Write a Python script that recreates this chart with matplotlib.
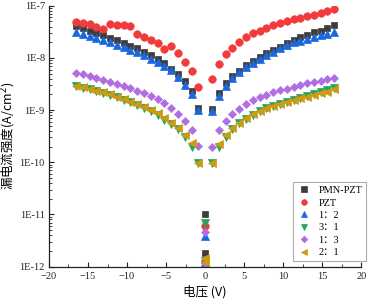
import matplotlib
matplotlib.use("Agg")
import matplotlib.pyplot as plt
from matplotlib.ticker import LogLocator, NullFormatter, FixedLocator, MultipleLocator, FixedFormatter

plt.rcParams['font.family'] = ['Liberation Serif', 'Noto Sans CJK SC', 'DejaVu Sans']

# voltages (V)
v_neg = [-16.53, -15.66, -14.79, -13.92, -13.05, -12.18, -11.31, -10.44, -9.57, -8.70,
         -7.83, -6.96, -6.09, -5.22, -4.35, -3.48, -2.61, -1.74, -0.87]
v_zero = [0.0, 0.0]
v_pos = [0.87, 1.74, 2.61, 3.48, 4.35, 5.22, 6.09, 6.96, 7.83, 8.70,
         9.57, 10.44, 11.31, 12.18, 13.05, 13.92, 14.79, 15.66, 16.53]

labels = ['PMN-PZT', 'PZT', '1：2', '3：1', '1：3', '2：1']

pmn_neg = [4.07e-8, 3.79e-8, 3.32e-8, 3.04e-8, 2.74e-8, 2.44e-8, 2.2e-8, 1.95e-8, 1.71e-8, 1.52e-8,
           1.32e-8, 1.14e-8, 9.5e-9, 7.85e-9, 6.12e-9, 4.91e-9, 3.6e-9, 2.35e-9, 1.08e-9]
pmn_zero = [1.02e-11, 1.8e-12]
pmn_pos = [1.05e-9, 2.09e-9, 3.25e-9, 4.5e-9, 5.69e-9, 7.3e-9, 8.71e-9, 1.05e-8, 1.22e-8, 1.42e-8,
           1.64e-8, 1.9e-8, 2.2e-8, 2.47e-8, 2.78e-8, 3.08e-8, 3.32e-8, 3.79e-8, 4.26e-8]

pzt_neg = [4.93e-8, 4.72e-8, 4.46e-8, 3.96e-8, 3.57e-8, 4.46e-8, 4.33e-8, 4.2e-8, 4.02e-8, 2.82e-8,
           2.55e-8, 2.2e-8, 1.9e-8, 1.46e-8, 1.69e-8, 1.22e-8, 8.2e-9, 5.52e-9, 2.72e-9]
pzt_zero = [6.0e-12, 1.3e-12]
pzt_pos = [3.88e-9, 7.64e-9, 1.19e-8, 1.57e-8, 2.04e-8, 2.55e-8, 2.95e-8, 3.32e-8, 3.73e-8, 4.2e-8,
           4.65e-8, 5.08e-8, 5.47e-8, 5.71e-8, 6.25e-8, 6.73e-8, 7.13e-8, 7.78e-8, 8.63e-8]

r12_neg = [3.13e-8, 2.91e-8, 2.62e-8, 2.4e-8, 2.23e-8, 1.99e-8, 1.79e-8, 1.62e-8, 1.42e-8, 1.29e-8,
           1.15e-8, 9.5e-9, 8.33e-9, 6.98e-9, 5.86e-9, 4.36e-9, 3.02e-9, 2.0e-9, 1.0e-9]
r12_zero = [3.8e-12, 1.2e-12]
r12_pos = [9.6e-10, 1.89e-9, 2.89e-9, 4.06e-9, 5.44e-9, 6.59e-9, 7.85e-9, 9.5e-9, 1.14e-8, 1.32e-8,
           1.52e-8, 1.76e-8, 1.99e-8, 2.14e-8, 2.27e-8, 2.55e-8, 2.74e-8, 2.82e-8, 3.08e-8]

r31_neg = [2.85e-9, 2.68e-9, 2.5e-9, 2.3e-9, 2.12e-9, 1.95e-9, 1.75e-9, 1.56e-9, 1.4e-9, 1.26e-9,
           1.1e-9, 9.6e-10, 8.2e-10, 6.6e-10, 5.5e-10, 4.3e-10, 3.1e-10, 2.0e-10, 9.6e-11]
r31_zero = [7.0e-12, 1.3e-12]
r31_pos = [9.6e-11, 2.0e-10, 3.1e-10, 4.4e-10, 5.6e-10, 6.8e-10, 8.1e-10, 9.5e-10, 1.1e-9, 1.2e-9,
           1.33e-9, 1.46e-9, 1.58e-9, 1.72e-9, 1.86e-9, 2.05e-9, 2.2e-9, 2.4e-9, 2.7e-9]

r13_neg = [5.2e-9, 4.91e-9, 4.5e-9, 4.06e-9, 3.77e-9, 3.5e-9, 3.2e-9, 2.89e-9, 2.61e-9, 2.35e-9,
           2.09e-9, 1.86e-9, 1.61e-9, 1.35e-9, 1.08e-9, 8.28e-10, 6.26e-10, 4.15e-10, 2.05e-10]
r13_zero = [4.7e-12, 1.15e-12]
r13_pos = [1.99e-10, 4.15e-10, 6.26e-10, 8.28e-10, 1.05e-9, 1.29e-9, 1.56e-9, 1.75e-9, 1.97e-9, 2.19e-9,
           2.39e-9, 2.57e-9, 2.81e-9, 3.02e-9, 3.25e-9, 3.5e-9, 3.66e-9, 3.88e-9, 4.18e-9]

r21_neg = [2.89e-9, 2.72e-9, 2.53e-9, 2.35e-9, 2.19e-9, 2.0e-9, 1.81e-9, 1.61e-9, 1.45e-9, 1.31e-9,
           1.16e-9, 1.0e-9, 8.65e-10, 6.95e-10, 5.74e-10, 4.6e-10, 3.33e-10, 2.37e-10, 9.8e-11]
r21_zero = [1.45e-12, 1.2e-12]
r21_pos = [9.8e-11, 2.2e-10, 3.33e-10, 4.6e-10, 5.74e-10, 6.95e-10, 8.28e-10, 9.6e-10, 1.11e-9, 1.21e-9,
           1.33e-9, 1.45e-9, 1.56e-9, 1.68e-9, 1.81e-9, 1.97e-9, 2.12e-9, 2.25e-9, 2.49e-9]

series = [
    (pmn_neg, pmn_zero, pmn_pos),
    (pzt_neg, pzt_zero, pzt_pos),
    (r12_neg, r12_zero, r12_pos),
    (r31_neg, r31_zero, r31_pos),
    (r13_neg, r13_zero, r13_pos),
    (r21_neg, r21_zero, r21_pos),
]
colors = ['#3c3c3c', '#f03a3c', '#1a68e0', '#22a462', '#b06ee2', '#d09a10']
markers = ['s', 'o', '^', 'v', 'D', '<']
sizes = [5.0, 5.4, 5.6, 5.6, 4.5, 5.6]

fig = plt.figure(figsize=(3.68, 3.04), dpi=100)
ax = fig.add_axes([0.133, 0.123, 0.849, 0.858])

x_all = v_neg + v_zero + v_pos
for (yn, yz, yp), c, m, s, lab in zip(series, colors, markers, sizes, labels):
    ax.plot(x_all, yn + yz + yp, linestyle='none', marker=m, color=c, markersize=s,
            markeredgewidth=0.5, markeredgecolor=c, label=lab)

ax.set_yscale('log')
ax.set_ylim(1e-12, 1e-7)
ax.set_xlim(-20, 20)
ax.xaxis.set_major_locator(MultipleLocator(5))
ax.xaxis.set_minor_locator(MultipleLocator(2.5))
ax.yaxis.set_minor_locator(LogLocator(base=10, subs=range(2, 10), numticks=10))
ax.yaxis.set_minor_formatter(NullFormatter())
ax.yaxis.set_major_locator(FixedLocator([1e-12, 1e-11, 1e-10, 1e-9, 1e-8, 1e-7]))
ax.yaxis.set_major_formatter(FixedFormatter(['1E-12', '1E-11', '1E-10', '1E-9', '1E-8', '1E-7']))

for sp in ['top', 'right']:
    ax.spines[sp].set_visible(False)
for sp in ['left', 'bottom']:
    ax.spines[sp].set_linewidth(0.9)
    ax.spines[sp].set_color('#222222')

ax.tick_params(axis='both', which='major', direction='in', length=3.5, width=0.8,
               labelsize=7.5, colors='#222222')
ax.tick_params(axis='x', which='major', pad=4)
ax.tick_params(axis='y', which='major', pad=3)
ax.tick_params(axis='both', which='minor', direction='in', length=2, width=0.6, colors='#222222')

ax.set_xlabel('电压 (V)', fontsize=9, family=['Noto Sans CJK SC', 'DejaVu Sans'], labelpad=3)
ax.set_ylabel('漏电流强度(A/cm$^2$)', fontsize=9, family=['Noto Sans CJK SC', 'DejaVu Sans'], labelpad=1)

leg = ax.legend(loc='lower right', bbox_to_anchor=(1.016, 0.02), frameon=True,
                fancybox=False, edgecolor='#999999', markerscale=0.75, handlelength=1.2,
                handletextpad=0.8, borderpad=0.4, labelspacing=0.3, borderaxespad=0.0,
                prop={'family': ['Liberation Serif', 'Noto Sans CJK SC'], 'size': 7.5})
leg.get_frame().set_linewidth(0.8)

fig.savefig('out.png', dpi=100)
